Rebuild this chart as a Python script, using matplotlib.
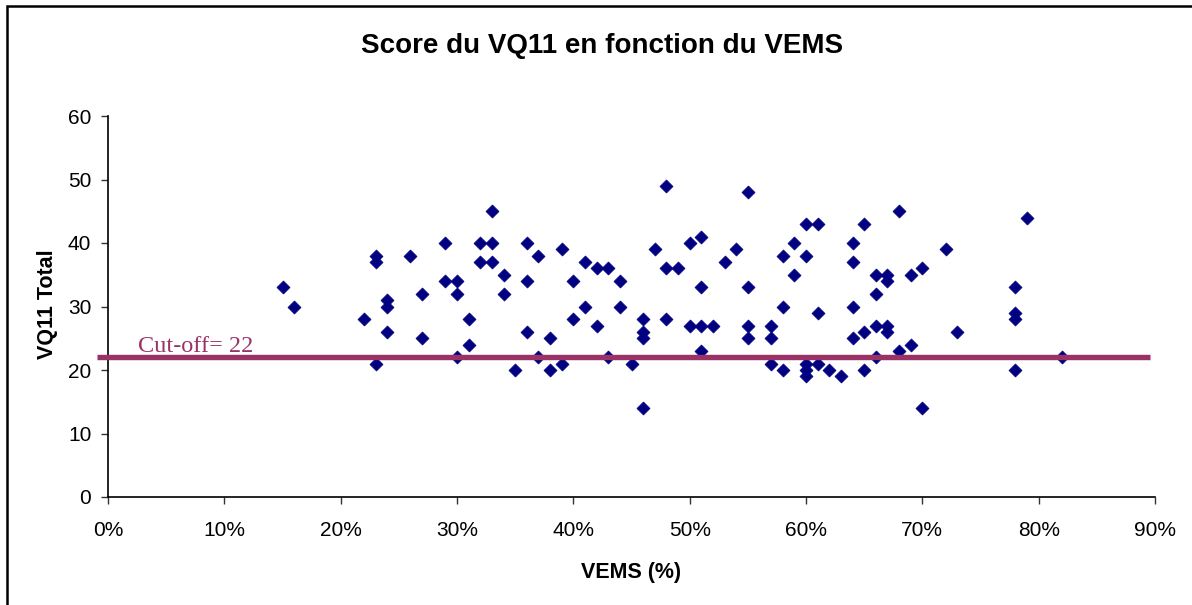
import matplotlib
matplotlib.use("Agg")
import matplotlib.pyplot as plt
from matplotlib.patches import Rectangle

# ---- data ----
vems = [15, 16,
        22, 23, 23, 23, 24, 24, 24,
        26, 27, 27,
        29, 29, 30, 30, 30, 31, 31,
        32, 32, 33, 33, 33, 34, 34,
        35, 36, 36, 36, 37, 37, 38, 38,
        39, 39, 40, 40, 41, 41, 42, 42, 43, 43, 44, 44, 45,
        46, 46, 46, 46, 47, 48, 48, 48, 49,
        50, 50, 51, 51, 51, 51, 52, 53, 54, 55, 55, 55, 55,
        57, 57, 57, 58, 58, 58, 59, 59, 60, 60, 60, 60, 60, 61, 61, 61, 62, 63,
        64, 64, 64, 64, 65, 65, 65, 66, 66, 66, 66, 67, 67, 67, 67, 68, 68, 69, 69, 70, 70, 72, 73,
        78, 78, 78, 78, 79, 82]
vq11 = [33, 30,
        28, 38, 37, 21, 31, 30, 26,
        38, 32, 25,
        40, 34, 34, 32, 22, 28, 24,
        40, 37, 45, 40, 37, 35, 32,
        20, 40, 34, 26, 38, 22, 25, 20,
        39, 21, 34, 28, 37, 30, 36, 27, 36, 22, 34, 30, 21,
        28, 26, 25, 14, 39, 49, 36, 28, 36,
        40, 27, 41, 33, 27, 23, 27, 37, 39, 48, 33, 27, 25,
        27, 25, 21, 38, 30, 20, 40, 35, 43, 38, 21, 20, 19, 43, 29, 21, 20, 19,
        40, 37, 30, 25, 43, 26, 20, 35, 32, 27, 22, 35, 34, 27, 26, 45, 23, 35, 24, 36, 14, 39, 26,
        33, 29, 28, 20, 44, 22]

cutoff = 22
cutoff_label = "Cut-off= 22"
x_ticks = [0, 10, 20, 30, 40, 50, 60, 70, 80, 90]
x_tick_labels = ["0%", "10%", "20%", "30%", "40%", "50%", "60%", "70%", "80%", "90%"]
y_ticks = [0, 10, 20, 30, 40, 50, 60]
title = "Score du VQ11 en fonction du VEMS"
xlabel = "VEMS (%)"
ylabel = "VQ11 Total"

W, H = 1192, 605
plt.rcParams['font.family'] = ['Liberation Sans', 'DejaVu Sans']
fig = plt.figure(figsize=(W / 100, H / 100), dpi=100)
fig.patch.set_facecolor('white')

L, R, T, B = 108, 1155, 116, 497
ax = fig.add_axes([L / W, 1 - B / H, (R - L) / W, (B - T) / H])
ax.set_xlim(0, 90)
ax.set_ylim(0, 60)

ax.scatter(vems, vq11, marker='D', s=44, color='#000080', edgecolors='#000080',
           linewidths=0.5, zorder=3)

# cut-off line
ax.plot([-0.95, 89.6], [cutoff, cutoff], color='#993366', lw=3.9,
        solid_capstyle='butt', clip_on=False, zorder=4)
fig.text(138 / W, 1 - 352.5 / H, cutoff_label, family='Liberation Serif',
         fontsize=17.5, color='#993366', ha='left', va='baseline')

ax.spines['top'].set_visible(False)
ax.spines['right'].set_visible(False)
for s in ('left', 'bottom'):
    ax.spines[s].set_linewidth(1.2)
    ax.spines[s].set_color('black')

ax.set_xticks(x_ticks)
ax.set_xticklabels(x_tick_labels)
ax.set_yticks(y_ticks)
ax.tick_params(axis='both', direction='out', length=5, width=1, color='#333333',
               labelsize=15, colors='#333333', labelcolor='black')
ax.tick_params(axis='x', pad=12)
ax.tick_params(axis='y', pad=7)

fig.text(601.7 / W, 1 - 53.3 / H, title, fontsize=20, fontweight='bold',
         ha='center', va='baseline')
fig.text(631 / W, 1 - 578 / H, xlabel, fontsize=15.5, fontweight='bold',
         ha='center', va='baseline')
fig.text(53 / W, 1 - 304 / H, ylabel, fontsize=15.5, fontweight='bold',
         rotation=90, rotation_mode='anchor', ha='center', va='baseline')

# outer chart frame
fig.add_artist(Rectangle((6.5 / W, -0.2), 1.2, 1.2 - 5.5 / H + 0.0,
                         transform=fig.transFigure, fill=False,
                         edgecolor='black', linewidth=1.8))

fig.savefig('out.png', dpi=100, facecolor='white')
